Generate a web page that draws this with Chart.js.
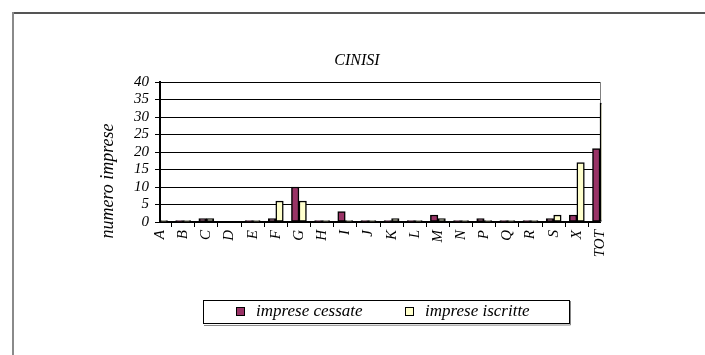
<!DOCTYPE html>
<html><head><meta charset="utf-8">
<script src="https://cdn.jsdelivr.net/npm/chart.js@4/dist/chart.umd.min.js"></script>
<style>html,body{margin:0;padding:0;background:#fff}#wrap{width:705px;height:355px;position:relative}</style>
</head><body><div id="wrap"><canvas id="c" width="705" height="355"></canvas></div>
<script>
const categories = ['A','B','C','D','E','F','G','H','I','J','K','L','M','N','P','Q','R','S','X','TOT'];
const impreseCessate = [0,0,1,null,0,1,10,0,3,0,0,0,2,0,1,0,0,1,2,21];
const impreseIscritte = [0,0,1,null,0,6,6,0,0,0,1,0,1,0,0,0,0,2,17,34];
const yTickValues = [0,5,10,15,20,25,30,35,40];
const seriesLabels = ['imprese cessate','imprese iscritte'];
const chartTitle = 'CINISI';
const yAxisTitle = 'numero imprese';

const SERIF = '"Liberation Serif", "DejaVu Serif", serif';

const deco = {
  id: 'deco',
  beforeDraw(chart) {
    const ctx = chart.ctx;
    ctx.save();
    ctx.fillStyle = '#fff';
    ctx.fillRect(0, 0, chart.width, chart.height);
    ctx.lineWidth = 2;
    ctx.strokeStyle = '#555';
    ctx.beginPath(); ctx.moveTo(12, 13); ctx.lineTo(705, 13); ctx.stroke();
    ctx.strokeStyle = '#8a8a8a';
    ctx.beginPath(); ctx.moveTo(13, 12); ctx.lineTo(13, 355); ctx.stroke();
    ctx.restore();
  },
  beforeDatasetsDraw(chart) {
    const ctx = chart.ctx, a = chart.chartArea;
    ctx.save();
    ctx.strokeStyle = '#808080';
    ctx.lineWidth = 1;
    ctx.beginPath(); ctx.moveTo(a.right + 0.5, a.top); ctx.lineTo(a.right + 0.5, a.bottom); ctx.stroke();
    ctx.restore();
  },
  afterDraw(chart) {
    const ctx = chart.ctx;
    ctx.save();
    ctx.fillStyle = '#000';
    ctx.textAlign = 'center'; ctx.textBaseline = 'middle';
    ctx.font = 'italic 16px ' + SERIF;
    ctx.fillText(chartTitle, 357, 61);
    ctx.save();
    ctx.translate(108, 181);
    ctx.rotate(-Math.PI / 2);
    ctx.font = 'italic 18px ' + SERIF;
    ctx.fillText(yAxisTitle, 0, 0);
    ctx.restore();
    ctx.strokeStyle = '#000';
    ctx.lineWidth = 1;
    ctx.strokeRect(203.5, 300.5, 366, 23);
    ctx.strokeStyle = '#888';
    ctx.beginPath(); ctx.moveTo(570.5, 301); ctx.lineTo(570.5, 325); ctx.lineTo(204, 325.5); ctx.stroke();
    const xs = [236, 405];
    ctx.font = 'italic 17px ' + SERIF;
    ctx.textAlign = 'left';
    chart.data.datasets.forEach((ds, i) => {
      ctx.fillStyle = ds.backgroundColor;
      ctx.fillRect(xs[i], 307, 9, 9);
      ctx.strokeStyle = '#000';
      ctx.strokeRect(xs[i] + 0.5, 307.5, 8, 8);
      ctx.fillStyle = '#000';
      ctx.fillText(ds.label, xs[i] + 20, 312);
    });
    ctx.restore();
  }
};

new Chart(document.getElementById('c'), {
  type: 'bar',
  data: {
    labels: categories,
    datasets: [
      { label: seriesLabels[0], data: impreseCessate, backgroundColor: '#993366' },
      { label: seriesLabels[1], data: impreseIscritte, backgroundColor: '#FFFFCC' }
    ]
  },
  options: {
    responsive: false,
    animation: false,
    devicePixelRatio: 1,
    layout: { padding: { left: 0, right: 105, top: 82, bottom: 0 } },
    datasets: {
      bar: {
        barThickness: 7.5,
        borderWidth: 1.5,
        borderColor: '#000',
        borderSkipped: false,
        minBarLength: 1.5,
        clip: { left: 0, top: 0, right: 1.5, bottom: 3 }
      }
    },
    plugins: { legend: { display: false }, title: { display: false }, tooltip: { enabled: false } },
    scales: {
      x: {
        offset: false,
        afterFit(s) { s.height = 133; },
        grid: { drawOnChartArea: false, drawTicks: true, tickLength: 5, color: '#000', lineWidth: 1 },
        border: { display: true, color: '#000', width: 2 },
        ticks: {
          autoSkip: false, maxRotation: 90, minRotation: 90, padding: 3, color: '#000',
          font: { family: SERIF, style: 'italic', size: 15 }
        }
      },
      y: {
        min: 0, max: 40,
        afterFit(s) { s.width = 160; },
        afterBuildTicks(s) { s.ticks = yTickValues.map(v => ({ value: v })); },
        grid: { color: '#000', lineWidth: 1, tickLength: 5, drawTicks: true },
        border: { display: true, color: '#000', width: 2 },
        ticks: {
          autoSkip: false, stepSize: 5, padding: 6, color: '#000',
          font: { family: SERIF, style: 'italic', size: 15 }
        }
      }
    }
  },
  plugins: [deco]
});
</script>
</body></html>
